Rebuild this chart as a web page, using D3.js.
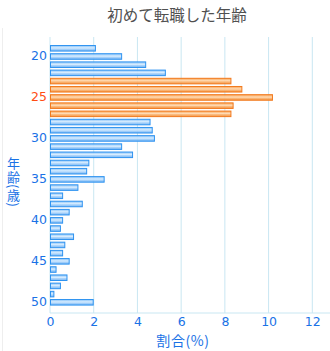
<!DOCTYPE html>
<html><head><meta charset="utf-8">
<script src="https://cdn.jsdelivr.net/npm/d3@7"></script>
<style>html,body{margin:0;padding:0;background:#fff;}svg{display:block;}</style>
</head><body>
<svg id="c" width="330" height="351"></svg>
<script>
const ages = d3.range(19, 51);
const values = [2.1,3.3,4.4,5.3,8.3,8.8,10.2,8.4,8.3,4.6,4.7,4.8,3.3,3.8,1.8,1.7,2.5,1.3,0.6,1.5,0.9,0.6,0.5,1.1,0.7,0.6,0.9,0.3,0.8,0.5,0.2,2.0];
const highlight = [23,24,25,26,27];
const yTicks = [20,25,30,35,40,45,50];
const xTicks = [0,2,4,6,8,10,12];
const title = "初めて転職した年齢";
const xTitle = "割合(%)";
const yTitle = "年齢(歳)";

const svg = d3.select("#c");
const font = "'Noto Sans CJK JP','Noto Sans',sans-serif";
const numFont = "'DejaVu Sans',sans-serif";
const x = d3.scaleLinear().domain([0,12]).range([50,312.3]);
const y = d3.scaleBand().domain(ages).range([44.2,306.4]).paddingInner(0.2).paddingOuter(0.1);
const plotTop = 37, plotBottom = 313;

const defs = svg.append("defs");
function grad(id, stops){
  const g = defs.append("linearGradient").attr("id",id).attr("x1",0).attr("y1",0).attr("x2",0).attr("y2",1);
  stops.forEach(s=>g.append("stop").attr("offset",s[0]).attr("stop-color",s[1]));
}
grad("gb",[[0,"#7fbdf7"],[0.45,"#d6ecff"],[0.6,"#a9d3fb"],[1,"#6aaef2"]]);
grad("go",[[0,"#f79a45"],[0.45,"#ffd9b0"],[0.6,"#fbb878"],[1,"#f28a30"]]);

// frame line left
svg.append("line").attr("x1",2.5).attr("x2",2.5).attr("y1",28).attr("y2",351).attr("stroke","#eeeeee");

// grid
svg.append("g").selectAll("line").data(xTicks).join("line")
  .attr("x1",d=>x(d)).attr("x2",d=>x(d)).attr("y1",plotTop).attr("y2",plotBottom)
  .attr("stroke","#c9e7f2").attr("stroke-width",1);
svg.append("line").attr("x1",x(0)).attr("x2",330).attr("y1",plotBottom).attr("y2",plotBottom)
  .attr("stroke","#c9e7f2");

// bars
svg.append("g").selectAll("rect").data(ages).join("rect")
  .attr("x",x(0)+0.5).attr("y",d=>y(d)+0.5)
  .attr("width",(d,i)=>Math.max(0,x(values[i])-x(0)-1))
  .attr("height",y.bandwidth()-1)
  .attr("fill",d=>highlight.includes(d)?"url(#go)":"url(#gb)")
  .attr("stroke",d=>highlight.includes(d)?"#f27a1e":"#2f93f0")
  .attr("stroke-width",1).attr("fill-opacity",0.92);

// y tick labels
const yAxis = d3.axisLeft(y).tickValues(yTicks).tickSize(0).tickPadding(3);
const ga = svg.append("g").attr("transform",`translate(${x(0)},0)`).call(yAxis);
ga.select(".domain").remove();
ga.selectAll("text").attr("font-family",numFont).attr("font-size",12.5)
  .attr("fill",d=>d===25?"#ff4d12":"#1a72e6");

// x tick labels
const xAxis = d3.axisBottom(x).tickValues(xTicks).tickSize(0).tickPadding(4);
const gx = svg.append("g").attr("transform",`translate(0,${plotBottom})`).call(xAxis);
gx.select(".domain").remove();
gx.selectAll("text").attr("font-family",numFont).attr("font-size",12.5).attr("fill","#1a72e6");

// titles
svg.append("text").attr("x",177).attr("y",21).attr("text-anchor","middle")
  .attr("font-family",font).attr("font-size",15.5).attr("fill","#505050").text(title);
svg.append("text").attr("x",183).attr("y",345.5).attr("text-anchor","middle")
  .attr("font-family",font).attr("font-size",14).attr("letter-spacing",0.6)
  .attr("fill","#1a72e6").text(xTitle);

// vertical y title
svg.append("text").attr("x",13.5).attr("y",157)
  .attr("font-family",font).attr("font-size",13).attr("fill","#1a72e6")
  .style("writing-mode","vertical-rl").style("text-orientation","mixed")
  .attr("letter-spacing",0.5)
  .text(yTitle);
</script>
</body></html>
